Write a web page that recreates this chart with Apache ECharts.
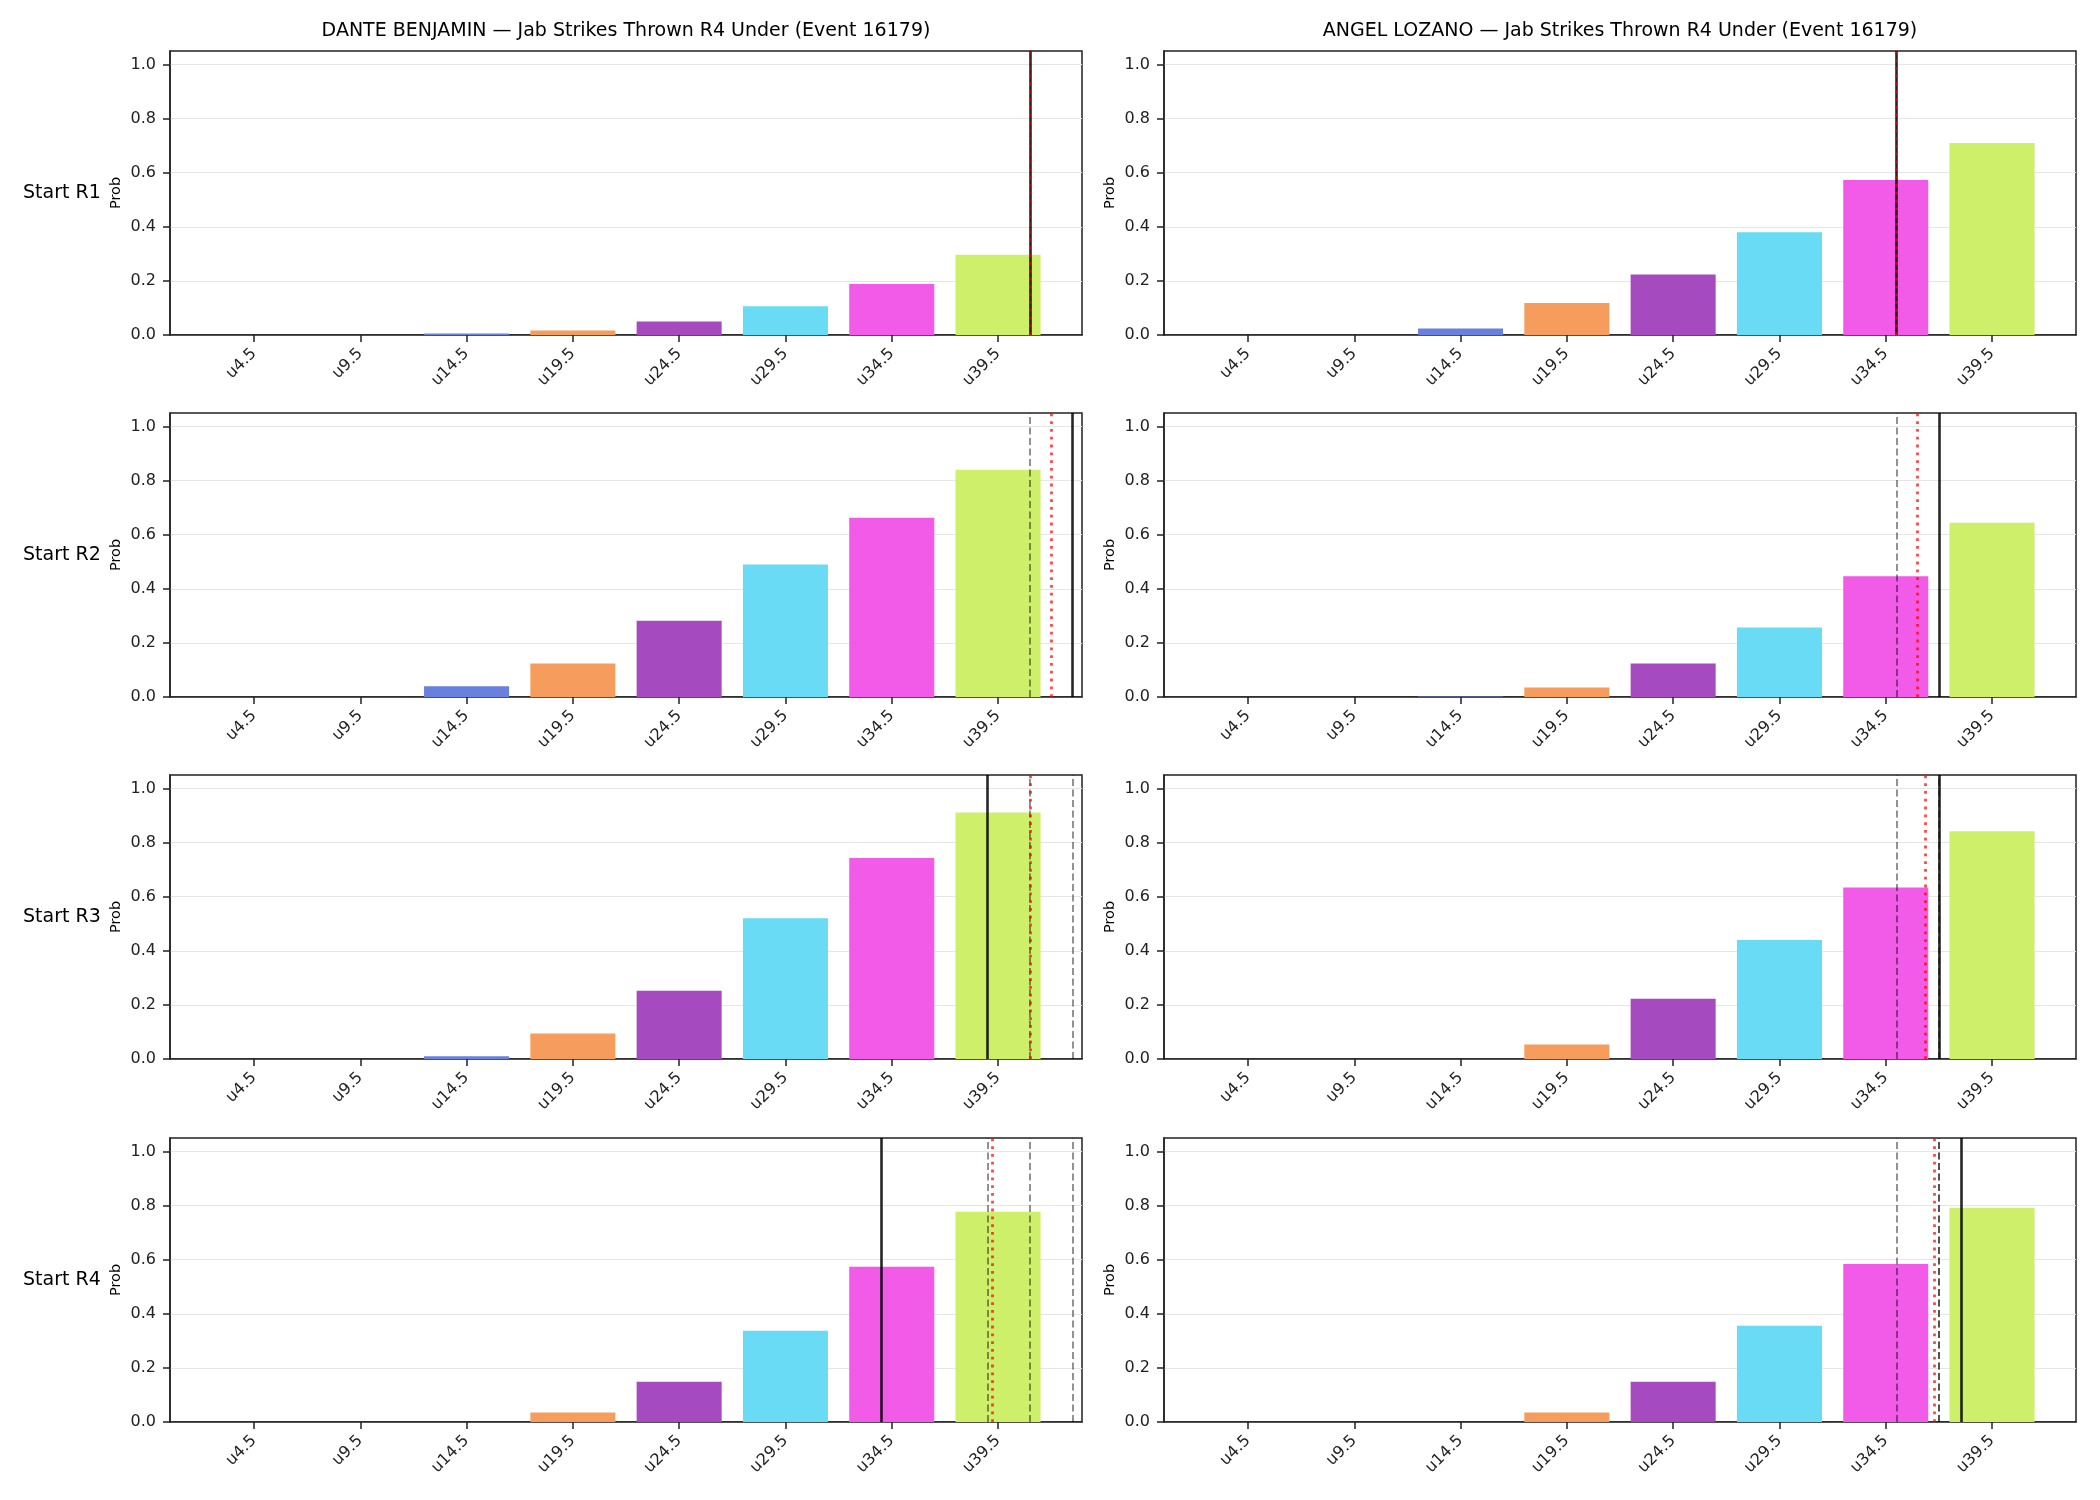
<!DOCTYPE html>
<html>
<head>
<meta charset="utf-8">
<script src="https://cdn.jsdelivr.net/npm/echarts@6/dist/echarts.min.js"></script>
<style>
  html, body { margin: 0; padding: 0; background: #fff; }
  #chart { width: 2100px; height: 1500px; }
</style>
</head>
<body>
<div id="chart"></div>
<script>
// bucket labels (x axis)
const cats = ["u4.5", "u9.5", "u14.5", "u19.5", "u24.5", "u29.5", "u34.5", "u39.5"];
const barColors = ["#e8636b", "#5fc97a", "#6a80de", "#f69c5c", "#a64bbf", "#69dbf5", "#f25ae8", "#cdef6a"];
const yTicks = [0, 0.2, 0.4, 0.6, 0.8, 1.0];
const rowNames = ["Start R1", "Start R2", "Start R3", "Start R4"];
const fighters = ["DANTE BENJAMIN", "ANGEL LOZANO"];

// probabilities per starting round
const benjaminR1 = [0, 0, 0.006, 0.017, 0.05, 0.106, 0.189, 0.297];
const benjaminR2 = [0, 0, 0.04, 0.124, 0.282, 0.49, 0.663, 0.84];
const benjaminR3 = [0, 0, 0.01, 0.094, 0.252, 0.52, 0.743, 0.911];
const benjaminR4 = [0, 0, 0, 0.035, 0.149, 0.337, 0.574, 0.777];
const lozanoR1 = [0, 0, 0.024, 0.118, 0.224, 0.38, 0.573, 0.71];
const lozanoR2 = [0, 0, 0.002, 0.035, 0.124, 0.257, 0.446, 0.644];
const lozanoR3 = [0, 0, 0, 0.054, 0.223, 0.44, 0.634, 0.842];
const lozanoR4 = [0, 0, 0, 0.035, 0.149, 0.356, 0.584, 0.792];

// vertical markers (in bucket index units)
const benjaminSolid = [7.3, 7.7, 6.9, 5.9];
const benjaminDotted = [7.3, 7.5, 7.3, 6.95];
const lozanoSolid = [6.1, 6.5, 6.5, 6.71];
const lozanoDotted = [6.1, 6.3, 6.37, 6.46];

const panels = [
  [benjaminR1, benjaminR2, benjaminR3, benjaminR4],
  [lozanoR1, lozanoR2, lozanoR3, lozanoR4]
];
const solids = [benjaminSolid, lozanoSolid];
const dotted = [benjaminDotted, lozanoDotted];

const FONT = "DejaVu Sans";
const colLeft = [170, 1164];
const colWidth = 912;
const rowTop = [51, 413, 775, 1138];
const rowHeight = 284;
const xMin = -0.79, xMax = 7.79;
const barW = 0.8 * colWidth / (xMax - xMin);

const chart = echarts.init(document.getElementById("chart"));

const grid = [], xAxis = [], yAxis = [], series = [], graphic = [];

for (let c = 0; c < 2; c++) {
  graphic.push({
    type: "text",
    x: colLeft[c] + colWidth / 2,
    y: 31,
    style: {
      text: fighters[c] + " — Jab Strikes Thrown R4 Under (Event 16179)",
      font: "19px '" + FONT + "'",
      fill: "#000",
      align: "center",
      verticalAlign: "middle"
    }
  });
  for (let r = 0; r < 4; r++) {
    const idx = grid.length;
    grid.push({
      left: colLeft[c],
      top: rowTop[r],
      width: colWidth,
      height: rowHeight,
      show: true,
      borderColor: "#222",
      borderWidth: 1.5,
      backgroundColor: "#fff"
    });
    xAxis.push({
      gridIndex: idx,
      type: "value",
      min: xMin,
      max: xMax,
      axisLine: { show: true, onZero: false, lineStyle: { color: "#222", width: 1.5 } },
      axisTick: { show: true, length: 7, customValues: cats.map((_, i) => i), lineStyle: { color: "#222", width: 1.5 } },
      axisLabel: {
        customValues: cats.map((_, i) => i),
        formatter: v => cats[Math.round(v)],
        rotate: 45,
        margin: 16,
        fontFamily: FONT,
        fontSize: 16,
        color: "#222"
      },
      splitLine: { show: false }
    });
    yAxis.push({
      gridIndex: idx,
      type: "value",
      min: 0,
      max: 1.05,
      interval: 0.2,
      axisLine: { show: true, onZero: false, lineStyle: { color: "#222", width: 1.5 } },
      axisTick: { show: true, length: 7, customValues: yTicks, lineStyle: { color: "#222", width: 1.5 } },
      axisLabel: {
        customValues: yTicks,
        formatter: v => v.toFixed(1),
        margin: 14,
        fontFamily: FONT,
        fontSize: 16,
        color: "#222"
      },
      splitLine: { show: true, lineStyle: { color: "#e6e6e6", width: 1 } }
    });

    // markers: earlier rounds' lines dashed, then solid, then dotted
    const marks = [];
    solids[c].slice(0, r).forEach(v => marks.push({
      xAxis: v,
      lineStyle: { color: "#000", opacity: 0.5, width: 1.7, type: [7, 3.5] }
    }));
    marks.push({ xAxis: solids[c][r], lineStyle: { color: "#000", opacity: 0.85, width: 2.6, type: "solid" } });
    marks.push({ xAxis: dotted[c][r], lineStyle: { color: "#ff0000", opacity: 0.72, width: 2.8, type: [2.8, 5] } });

    series.push({
      type: "bar",
      xAxisIndex: idx,
      yAxisIndex: idx,
      barWidth: barW,
      animation: false,
      data: panels[c][r].map((v, i) => ({ value: [i, v], itemStyle: { color: barColors[i] } })),
      markLine: {
        silent: true,
        symbol: "none",
        animation: false,
        label: { show: false },
        data: marks
      }
    });

    const midY = rowTop[r] + rowHeight / 2;
    graphic.push({
      type: "text",
      x: colLeft[c] - 54,
      y: midY,
      rotation: Math.PI / 2,
      style: {
        text: "Prob",
        font: "14.5px '" + FONT + "'",
        fill: "#000",
        align: "center",
        verticalAlign: "middle"
      }
    });
    if (c === 0) {
      graphic.push({
        type: "text",
        x: 23,
        y: midY,
        style: {
          text: rowNames[r],
          font: "19px '" + FONT + "'",
          fill: "#000",
          align: "left",
          verticalAlign: "middle"
        }
      });
    }
  }
}

chart.setOption({
  backgroundColor: "#fff",
  animation: false,
  grid: grid,
  xAxis: xAxis,
  yAxis: yAxis,
  series: series,
  graphic: graphic
});
</script>
</body>
</html>
